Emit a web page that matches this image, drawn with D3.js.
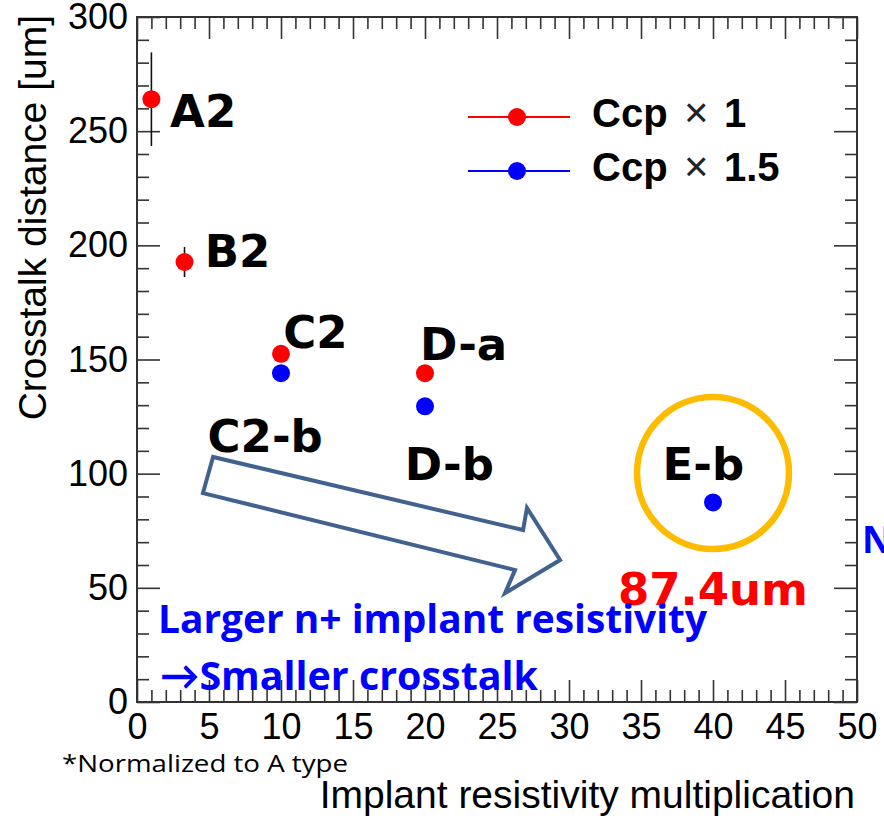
<!DOCTYPE html>
<html>
<head>
<meta charset="utf-8">
<script src="https://cdn.jsdelivr.net/npm/d3@7"></script>
<style>
  body { margin: 0; background: #fff; }
  svg { display: block; }
</style>
</head>
<body>
<svg id="chart" width="884" height="822"></svg>
<script>
// data
const seriesNames = ["Ccp \u00d7 1", "Ccp \u00d7 1.5"];
const seriesColors = ["#ff0000", "#0000ff"];

const ccp1X = [1, 3.3, 10, 20];
const ccp1Y = [264, 192.7, 152.5, 144];
const ccp1Err = [20.5, 6.6, 2, 2];
const ccp1Labels = ["A2", "B2", "C2", "D-a"];

const ccp15X = [10, 20, 40];
const ccp15Y = [144, 129.5, 87.4];
const ccp15Err = [2, 2, 2];
const ccp15Labels = ["C2-b", "D-b", "E-b"];

const xTicks = [0, 5, 10, 15, 20, 25, 30, 35, 40, 45, 50];
const yTicks = [0, 50, 100, 150, 200, 250, 300];

// label anchor spots (data units), kept apart from the values
const ccp1LabelPos = [[2.3, 251.8], [4.7, 190.5], [10.15, 155], [19.65, 150]];
const ccp15LabelPos = [[4.9, 109.5], [18.6, 97.2], [36.5, 97.2]];

let svg = d3.select("#chart"),
    plotLeft = 137, plotRight = 857, plotTop = 17, plotBottom = 702;

let x = d3.scaleLinear().domain([0, 50]).range([plotLeft, plotRight]);
let y = d3.scaleLinear().domain([0, 300]).range([plotBottom, plotTop]);

let axisColor = "#333";

// minor + major ticks on all four sides (ROOT style)
function drawAxis(axisFn, transform, major, minor, majorLen, minorLen, labels) {
    let gMinor = svg.append("g").attr("transform", transform)
        .call(axisFn.tickValues(minor).tickSize(-minorLen).tickSizeOuter(0).tickFormat(""));
    gMinor.select(".domain").remove();
    gMinor.selectAll("line").attr("stroke", axisColor).attr("stroke-width", 1.6);

    let gMajor = svg.append("g").attr("transform", transform)
        .call(axisFn.tickValues(major).tickSize(-majorLen).tickSizeOuter(0)
            .tickPadding(labels === "x" ? 11 : 9)
            .tickFormat(labels ? d3.format("d") : ""));
    gMajor.select(".domain").remove();
    gMajor.selectAll("line").attr("stroke", axisColor).attr("stroke-width", 1.6);
    gMajor.selectAll("text")
        .attr("font-family", "'Liberation Sans', Arial, sans-serif")
        .attr("font-size", 36)
        .attr("fill", "#000");
}

let xMinor = d3.range(0, 51, 1).filter(d => d % 5 !== 0);
let yMinor = d3.range(0, 301, 10).filter(d => d % 50 !== 0);

drawAxis(d3.axisBottom(x), "translate(0," + plotBottom + ")", xTicks, xMinor, 22, 12, "x");
drawAxis(d3.axisTop(x), "translate(0," + plotTop + ")", xTicks, xMinor, 22, 12, null);
drawAxis(d3.axisLeft(y), "translate(" + plotLeft + ",0)", yTicks, yMinor, 23, 12, "y");
drawAxis(d3.axisRight(y), "translate(" + plotRight + ",0)", yTicks, yMinor, 23, 12, null);

// frame
svg.append("rect")
    .attr("x", plotLeft).attr("y", plotTop)
    .attr("width", plotRight - plotLeft).attr("height", plotBottom - plotTop)
    .attr("fill", "none").attr("stroke", axisColor).attr("stroke-width", 2);

// axis titles
svg.append("text")
    .attr("x", 855).attr("y", 808)
    .attr("text-anchor", "end")
    .attr("font-family", "'Liberation Sans', Arial, sans-serif")
    .attr("font-size", 39)
    .text("Implant resistivity multiplication");

svg.append("text")
    .attr("transform", "translate(46,15) rotate(-90)")
    .attr("text-anchor", "end")
    .attr("font-family", "'Liberation Sans', Arial, sans-serif")
    .attr("font-size", 39)
    .text("Crosstalk distance [um]");

// highlight circle around E-b
svg.append("circle")
    .attr("cx", x(40)).attr("cy", y(100.3))
    .attr("r", 76)
    .attr("fill", "none")
    .attr("stroke", "#ffbb00")
    .attr("stroke-width", 6.5);

// big hollow arrow (data units)
const arrowPts = [[5.28, 107.3], [4.58, 91.5], [26.25, 57.8], [25.56, 47.7],
    [29.38, 62.2], [27.08, 85.0], [26.81, 75.3]];
svg.append("path")
    .attr("d", d3.line().x(d => x(d[0])).y(d => y(d[1])).curve(d3.curveLinearClosed)(arrowPts))
    .attr("fill", "none")
    .attr("stroke", "#41628f")
    .attr("stroke-width", 4)
    .attr("stroke-linejoin", "miter");

// points with error bars
function drawSeries(xs, ys, errs, color) {
    let g = svg.append("g");
    let data = xs.map((d, i) => ({x: d, y: ys[i], e: errs[i]}));
    g.selectAll("line.err").data(data).enter().append("line")
        .attr("class", "err")
        .attr("x1", d => x(d.x)).attr("x2", d => x(d.x))
        .attr("y1", d => y(d.y + d.e)).attr("y2", d => y(d.y - d.e))
        .attr("stroke", "#111").attr("stroke-width", 1.6);
    g.selectAll("circle").data(data).enter().append("circle")
        .attr("cx", d => x(d.x)).attr("cy", d => y(d.y))
        .attr("r", 9)
        .attr("fill", color);
}
drawSeries(ccp1X, ccp1Y, ccp1Err, seriesColors[0]);
drawSeries(ccp15X, ccp15Y, ccp15Err, seriesColors[1]);

// point labels
function drawLabels(names, pos) {
    svg.append("g").selectAll("text").data(names).enter().append("text")
        .attr("x", (d, i) => x(pos[i][0]))
        .attr("y", (d, i) => y(pos[i][1]))
        .attr("font-family", "'DejaVu Sans', sans-serif")
        .attr("font-weight", "bold")
        .attr("font-size", 45)
        .attr("fill", "#000")
        .text(d => d);
}
drawLabels(ccp1Labels, ccp1LabelPos);
drawLabels(ccp15Labels, ccp15LabelPos);

svg.append("text")
    .attr("x", x(33.4)).attr("y", y(42.5))
    .attr("font-family", "'DejaVu Sans', sans-serif")
    .attr("font-weight", "bold")
    .attr("font-size", 45)
    .attr("fill", "#ff0000")
    .text(ccp15Y[2] + "um");

// legend
let legendRows = [117, 171];
seriesNames.forEach(function (name, i) {
    let ly = legendRows[i];
    svg.append("line")
        .attr("x1", 468).attr("x2", 570).attr("y1", ly).attr("y2", ly)
        .attr("stroke", seriesColors[i]).attr("stroke-width", 2);
    svg.append("circle").attr("cx", 517).attr("cy", ly).attr("r", 9).attr("fill", seriesColors[i]);
    let parts = name.split(" \u00d7 ");
    let t = svg.append("text")
        .attr("y", ly + 10)
        .attr("font-family", "'Liberation Sans', Arial, sans-serif")
        .attr("font-size", 40)
        .attr("fill", "#000");
    t.append("tspan").attr("x", 592).attr("font-weight", "bold").text(parts[0]);
    t.append("tspan").attr("x", 684).attr("font-size", 42).attr("fill", "#222").text("\u00d7");
    t.append("tspan").attr("x", 724).attr("font-weight", "bold").text(parts[1]);
});

// slide text
let blueFont = "'Open Sans', Lato, sans-serif";
svg.append("text")
    .attr("x", 158).attr("y", 633)
    .attr("font-family", blueFont).attr("font-weight", "bold").attr("font-size", 40)
    .attr("fill", "#0000ff")
    .attr("textLength", 549).attr("lengthAdjust", "spacingAndGlyphs")
    .text("Larger n+ implant resistivity");
svg.append("text")
    .attr("x", 160).attr("y", 690)
    .attr("font-family", blueFont).attr("font-weight", "bold").attr("font-size", 40)
    .attr("fill", "#0000ff")
    .attr("textLength", 378).attr("lengthAdjust", "spacingAndGlyphs")
    .text("\u2192Smaller crosstalk");
svg.append("text")
    .attr("x", 862).attr("y", 553)
    .attr("font-family", blueFont).attr("font-weight", "bold").attr("font-size", 37)
    .attr("fill", "#0000ff")
    .text("N");
svg.append("text")
    .attr("x", 62).attr("y", 772)
    .attr("font-family", blueFont).attr("font-size", 24)
    .attr("fill", "#000")
    .attr("textLength", 286).attr("lengthAdjust", "spacingAndGlyphs")
    .text("*Normalized to A type");
</script>
</body>
</html>
